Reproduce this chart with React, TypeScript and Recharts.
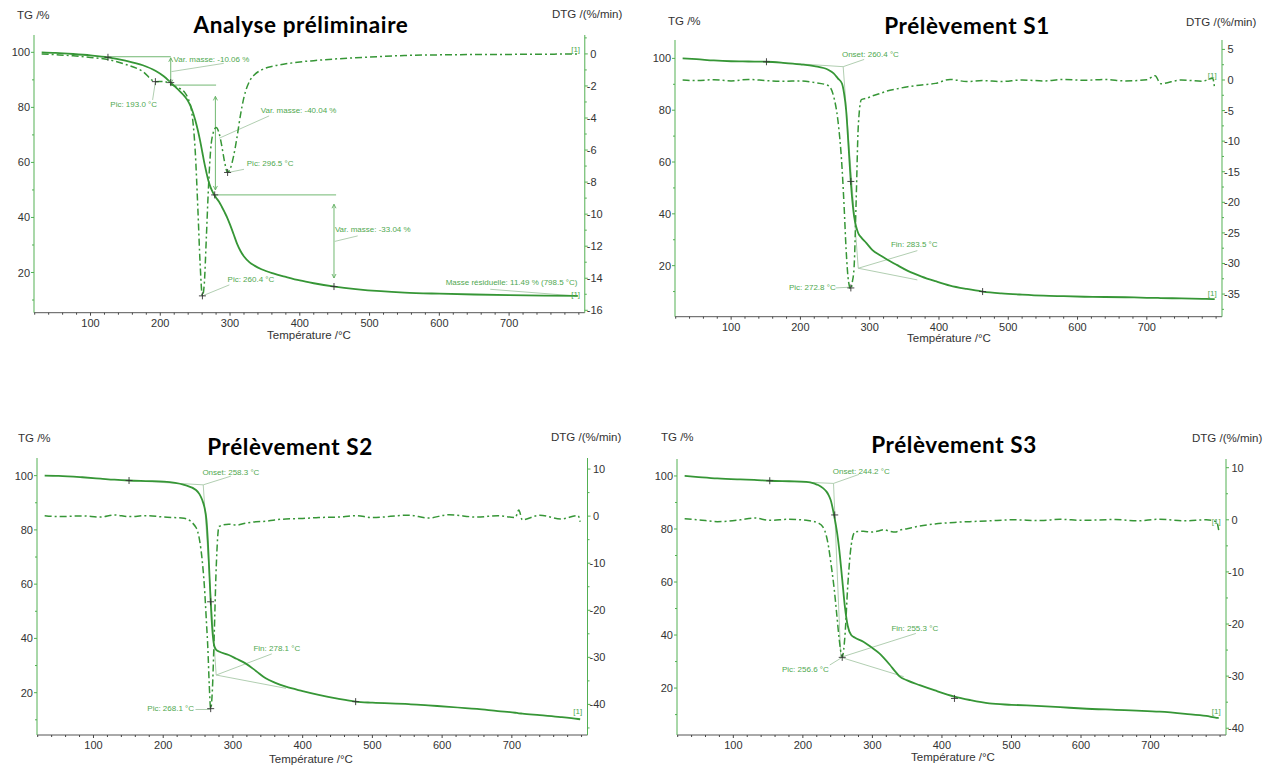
import React from 'react';
import { ComposedChart, Line, XAxis, YAxis, ReferenceLine, ReferenceDot } from 'recharts';

// ---------- DATA ----------
// Panel A : Analyse préliminaire
const tempA = [30, 50, 75, 100, 125, 150, 175, 193, 205, 215, 225, 235, 240, 245, 250, 254, 257, 260.4, 263, 266, 269, 272, 276, 280, 284, 288, 292, 296.5, 300, 305, 310, 315, 320, 328, 335, 345, 363, 380, 400, 420, 450, 480, 516, 550, 600, 650, 700, 750, 798.5];
const tgA = [100, 99.8, 99.4, 98.9, 98.2, 97.0, 95.3, 93.3, 91.3, 89, 86.6, 84, 82.2, 79.5, 75.5, 71.5, 68, 63.5, 60, 56.5, 53.3, 51, 48.8, 47.2, 45.8, 44, 42, 39.6, 37.4, 34, 30.5, 27.8, 25.8, 23.7, 22.5, 21.2, 19.6, 18.4, 17.1, 16.1, 14.9, 14.0, 13.2, 12.7, 12.3, 12.0, 11.8, 11.6, 11.5];
const dtgA = [0, -0.05, -0.12, -0.22, -0.35, -0.65, -1.1, -1.73, -1.72, -1.9, -2.1, -2.4, -2.8, -3.6, -6.0, -9.8, -13.0, -15.1, -14.4, -11.5, -8.4, -6.1, -4.9, -4.6, -4.9, -5.7, -6.7, -7.4, -7.2, -6.4, -5.2, -3.8, -2.7, -1.7, -1.3, -1.0, -0.75, -0.62, -0.5, -0.42, -0.32, -0.24, -0.16, -0.1, -0.06, -0.04, -0.03, -0.02, 0];

// Panel B : Prélèvement S1
const tempB = [30, 50, 75, 100, 125, 151, 175, 200, 220, 240, 248, 254, 260, 263, 266, 269.5, 272.8, 275, 277.5, 280.5, 283.5, 288, 295, 304, 315, 325, 339, 355, 375, 395, 416, 440, 463, 490, 520, 551, 580, 610, 640, 669, 700, 712, 720, 750, 780, 795, 798];
const tgB = [100, 99.7, 99.2, 98.9, 98.8, 98.7, 98.3, 97.7, 97.0, 95.6, 94.2, 92.3, 90.3, 86.5, 80, 66, 52, 45, 39, 35, 32.5, 30.8, 28.8, 26, 24, 22.4, 20.3, 18, 15.8, 14, 12.3, 11, 10, 9.3, 8.8, 8.4, 8.2, 8.0, 7.9, 7.8, 7.6, 7.55, 7.5, 7.35, 7.2, 7.1, 7.1];
const dtgB = [0, -0.1, 0.05, -0.15, 0.1, -0.1, -0.2, -0.15, -0.4, -0.9, -2.7, -6.5, -14.2, -20.5, -27.8, -33, -34.2, -33, -30.6, -19.6, -7.6, -3.2, -3.0, -2.6, -2.2, -1.8, -1.45, -1.1, -0.8, -0.55, 0.1, -0.25, -0.1, -0.25, 0, -0.15, 0.1, -0.05, 0.1, -0.15, 0.05, 0.7, -0.6, 0, -0.2, 0.3, -1.5];

// Panel C : Prélèvement S2
const tempC = [30, 50, 84, 110, 130, 151, 175, 201, 230, 247, 252, 256, 259, 262, 264, 266, 268.1, 270.5, 273, 276, 280, 294, 305, 318, 333, 347, 360, 376, 400, 423, 450, 476, 500, 552, 580, 610, 650, 680, 705, 710, 715, 740, 770, 795, 798];
const tgC = [100, 99.9, 99.4, 98.9, 98.5, 98.2, 98.0, 97.8, 96.6, 94.7, 93.2, 91, 88.5, 83.7, 76, 65.2, 53.5, 43, 37.5, 35.8, 35.2, 33.9, 32.5, 30.8, 28, 25.3, 23.7, 22.2, 20.6, 19.2, 17.8, 16.7, 16.3, 15.8, 15.3, 14.8, 14, 13.2, 12.6, 12.4, 12.3, 11.7, 11, 10.3, 10.2];
const dtgC = [0.1, -0.1, 0.05, -0.2, 0.25, -0.1, 0.1, -0.2, -0.45, -2.4, -5, -9.5, -14.8, -22.5, -28, -35.7, -40.9, -37, -26, -11, -2.2, -1.7, -1.9, -1.5, -1.2, -1.1, -0.8, -0.6, -0.5, -0.3, -0.2, 0.1, -0.3, 0.2, -0.4, 0.3, -0.2, 0.1, -0.3, 1.3, -0.8, 0.2, -0.6, 0.1, -1.2];

// Panel D : Prélèvement S3
const tempD = [30, 50, 77, 110, 130, 153, 180, 205, 217, 222, 229, 234, 237, 240, 245, 249, 252, 256.6, 260.5, 264.5, 269.5, 275, 287, 298, 310, 316, 325, 333, 339, 350, 368, 390, 418, 440, 468, 500, 543, 570, 602, 650, 680, 713, 750, 780, 795, 798];
const tgD = [100, 99.6, 99.1, 98.7, 98.5, 98.2, 98.0, 97.8, 97.1, 96.6, 95.4, 94.1, 92.8, 90.9, 85, 79, 73, 61, 50.5, 43.5, 40, 39, 37.5, 35.5, 33.1, 31.5, 28.8, 26.2, 24.4, 22.9, 21.1, 19.1, 16.8, 15.5, 14.2, 13.7, 13.2, 12.8, 12.3, 11.8, 11.5, 11.1, 10.3, 9.5, 8.8, 8.7];
const dtgD = [0.2, 0, -0.35, 0, 0.35, -0.1, 0.1, -0.1, -0.36, -0.6, -1.4, -3.2, -5.2, -8, -13.2, -18.5, -22.6, -26.3, -22.3, -12.8, -4.9, -2.3, -2.2, -2.35, -2.1, -1.9, -2.2, -2.35, -2.0, -1.7, -1.2, -0.8, -0.5, -0.35, -0.2, 0, -0.15, 0.1, -0.1, 0.05, -0.2, 0.1, -0.2, 0, -0.4, -2];

// Tick labels
const titles = ['Analyse préliminaire', 'Prélèvement S1', 'Prélèvement S2', 'Prélèvement S3'];
const xMajor = [100, 200, 300, 400, 500, 600, 700];
const xTicks = [20, 40, 60, 80, 100, 120, 140, 160, 180, 200, 220, 240, 260, 280, 300, 320, 340, 360, 380, 400, 420, 440, 460, 480, 500, 520, 540, 560, 580, 600, 620, 640, 660, 680, 700, 720, 740, 760, 780, 800];
const tgMajor = [20, 40, 60, 80, 100];
const tgTicks = [10, 20, 30, 40, 50, 60, 70, 80, 90, 100];
const dtgMajorA = [0, -2, -4, -6, -8, -10, -12, -14, -16];
const dtgTicksA = [1, 0, -1, -2, -3, -4, -5, -6, -7, -8, -9, -10, -11, -12, -13, -14, -15, -16];
const dtgMajorB = [5, 0, -5, -10, -15, -20, -25, -30, -35];
const dtgTicksB = [5, 2.5, 0, -2.5, -5, -7.5, -10, -12.5, -15, -17.5, -20, -22.5, -25, -27.5, -30, -32.5, -35, -37.5];
const dtgMajorCD = [10, 0, -10, -20, -30, -40];
const dtgTicksC = [10, 5, 0, -5, -10, -15, -20, -25, -30, -35, -40, -45];
const dtgTicksD = [10, 5, 0, -5, -10, -15, -20, -25, -30, -35, -40];

// ---------- STYLE ----------
const FONT = "'Liberation Sans', Arial, Helvetica, sans-serif";
const CURVE = '#369636';
const AXIS_G = '#52b052';
const ANN_TXT = '#4fa84f';
const ANN_LINE = '#62b062';
const LEAD = '#a8c8a8';
const PADL = 40, PADR = 45, PADT = 5, PADB = 30;

type Ax = 'tg' | 'dtg';
type Ann =
  | { k: 'seg'; ax: Ax; p: number[]; c: string }
  | { k: 'txt'; ax: Ax; x: number; y: number; s: string; anchor?: string }
  | { k: 'plus'; ax: Ax; x: number; y: number }
  | { k: 'head'; ax: Ax; x: number; y: number; dir: 'up' | 'down' };

const seg = (ax: Ax, x1: number, y1: number, x2: number, y2: number, c = LEAD): Ann => ({ k: 'seg', ax, p: [x1, y1, x2, y2], c });
const txt = (ax: Ax, x: number, y: number, s: string, anchor = 'start'): Ann => ({ k: 'txt', ax, x, y, s, anchor });
const plus = (ax: Ax, x: number, y: number): Ann => ({ k: 'plus', ax, x, y });
const head = (ax: Ax, x: number, y: number, dir: 'up' | 'down'): Ann => ({ k: 'head', ax, x, y, dir });

const annA: Ann[] = [
  seg('tg', 125, 98.4, 215, 98.4, ANN_LINE),
  seg('tg', 215, 98.0, 215, 88.6, ANN_LINE), head('tg', 215, 98.0, 'up'), head('tg', 215, 88.6, 'down'),
  seg('tg', 215, 88.1, 280, 88.1, ANN_LINE),
  seg('tg', 279, 84, 279, 50, ANN_LINE), head('tg', 279, 84, 'up'), head('tg', 279, 50, 'down'),
  seg('tg', 277, 48.2, 452, 48.2, ANN_LINE),
  seg('tg', 449, 44.8, 449, 18, ANN_LINE), head('tg', 449, 44.8, 'up'), head('tg', 449, 18, 'down'),
  seg('tg', 216, 93, 291, 96),
  seg('tg', 189, 82.7, 193, 89.3),
  seg('tg', 284.5, 68.8, 356, 76.9),
  seg('tg', 296.5, 56.3, 320, 57.5),
  seg('tg', 450, 31.3, 483, 33.3),
  seg('tg', 260.4, 11.5, 299, 15.5),
  seg('tg', 673, 13.9, 790, 11.6),
  txt('tg', 219, 96.6, 'Var. masse: -10.06 %'),
  txt('tg', 128.4, 80.3, 'Pic: 193.0 °C'),
  txt('tg', 344, 77.9, 'Var. masse: -40.04 %'),
  txt('tg', 324, 58.7, 'Pic: 296.5 °C'),
  txt('tg', 450.3, 34.9, 'Var. masse: -33.04 %'),
  txt('tg', 296.5, 16.7, 'Pic: 260.4 °C'),
  txt('tg', 798, 15.4, 'Masse résiduelle: 11.49 % (798.5 °C)', 'end'),
  txt('dtg', 789, 0.15, '[1]'),
  txt('tg', 789, 11.2, '[1]'),
  plus('tg', 125, 98.2), plus('tg', 215, 89), plus('tg', 278, 48.2), plus('tg', 449, 14.9),
  plus('dtg', 193, -1.73), plus('dtg', 260.4, -15.1), plus('dtg', 296.5, -7.4),
];

const annB: Ann[] = [
  seg('tg', 151, 98.7, 261.7, 96.8),
  seg('tg', 261.7, 96.8, 283.5, 19.0),
  seg('tg', 283.5, 19.0, 368.8, 14.5),
  seg('tg', 283.5, 19.0, 368.8, 25.8),
  seg('tg', 261.7, 96.8, 292, 99.6),
  seg('tg', 251, 11.4, 272.8, 11.7),
  txt('tg', 260, 100.4, 'Onset: 260.4 °C'),
  txt('tg', 330.6, 27.1, 'Fin: 283.5 °C'),
  txt('tg', 183.5, 10.6, 'Pic: 272.8 °C'),
  txt('dtg', 788, 0.3, '[1]'),
  txt('tg', 788, 8.4, '[1]'),
  plus('tg', 151, 98.7), plus('tg', 272.8, 52.5), plus('tg', 463, 10),
  plus('dtg', 272.8, -34),
];

const annC: Ann[] = [
  seg('tg', 151, 98.2, 257.4, 96.6),
  seg('tg', 257.4, 96.6, 276, 26.5),
  seg('tg', 276, 26.5, 376, 21.6),
  seg('tg', 276, 26.5, 355.7, 34.3),
  seg('tg', 257.4, 96.6, 297, 99.8),
  seg('tg', 246.3, 13.8, 268.1, 13.8),
  txt('tg', 256.2, 100.2, 'Onset: 258.3 °C'),
  txt('tg', 329.4, 35.5, 'Fin: 278.1 °C'),
  txt('tg', 177.2, 13.3, 'Pic: 268.1 °C'),
  txt('tg', 788, 12.0, '[1]'),
  plus('tg', 151, 98.2), plus('tg', 268, 53.5), plus('tg', 476, 16.7),
  plus('dtg', 268.1, -40.9),
];

const annD: Ann[] = [
  seg('tg', 152.4, 98.2, 244.1, 97.2),
  seg('tg', 244.1, 97.2, 254.5, 31.6),
  seg('tg', 254.5, 31.6, 345, 24.3),
  seg('tg', 254.5, 31.6, 362.5, 40.6),
  seg('tg', 244.1, 97.2, 280.8, 100.6),
  seg('tg', 238.7, 28.7, 256.6, 31.6),
  txt('tg', 243, 100.9, 'Onset: 244.2 °C'),
  txt('tg', 327.3, 41.4, 'Fin: 255.3 °C'),
  txt('tg', 170, 26.0, 'Pic: 256.6 °C'),
  txt('dtg', 788, -0.8, '[1]'),
  txt('tg', 788, 10.2, '[1]'),
  plus('tg', 152.4, 98.2), plus('tg', 245.8, 85.3), plus('tg', 418, 16.1),
  plus('dtg', 256.6, -26.4),
];

// ---------- TICKS ----------
const xTick = (p: any) => {
  const v = p.payload.value;
  const major = xMajor.includes(v);
  return (
    <g>
      <line x1={p.x} y1={p.y} x2={p.x} y2={p.y + (major ? 3 : 2)} stroke="#444" strokeWidth={1} />
      {major && (
        <text x={p.x} y={p.y + 14} textAnchor="middle" fontSize={11} fill="#333" fontFamily={FONT}>{v}</text>
      )}
    </g>
  );
};
const leftTick = (p: any) => {
  const v = p.payload.value;
  const major = tgMajor.includes(v);
  return (
    <g>
      <line x1={p.x - (major ? 3 : 2)} y1={p.y} x2={p.x} y2={p.y} stroke={AXIS_G} strokeWidth={1} />
      {major && (
        <text x={p.x - 4} y={p.y + 4} textAnchor="end" fontSize={11} fill="#333" fontFamily={FONT}>{v}</text>
      )}
    </g>
  );
};
const makeRightTick = (majors: number[]) => (p: any) => {
  const v = p.payload.value;
  const major = majors.includes(v);
  return (
    <g>
      <line x1={p.x} y1={p.y} x2={p.x + (major ? 3 : 2)} y2={p.y} stroke={AXIS_G} strokeWidth={1} />
      {major && (
        <text x={p.x + (v < 0 ? 2 : 5.5)} y={p.y + 4} textAnchor="start" fontSize={11} fill="#333" fontFamily={FONT}>{v}</text>
      )}
    </g>
  );
};

// ---------- ANNOTATION RENDER ----------
const renderAnn = (a: Ann, i: number) => {
  if (a.k === 'seg') {
    return (
      <ReferenceLine key={'s' + i} yAxisId={a.ax} ifOverflow="visible"
        segment={[{ x: a.p[0], y: a.p[1] }, { x: a.p[2], y: a.p[3] }]}
        stroke={a.c} strokeWidth={0.9} />
    );
  }
  if (a.k === 'txt') {
    const s = a.s, anchor = a.anchor || 'start';
    return (
      <ReferenceDot key={'t' + i} yAxisId={a.ax} x={a.x} y={a.y} r={0} ifOverflow="visible"
        shape={(p: any) => (
          <text x={p.cx} y={p.cy} fontSize={8} fill={ANN_TXT} fontFamily={FONT} textAnchor={anchor}>{s}</text>
        )} />
    );
  }
  if (a.k === 'plus') {
    return (
      <ReferenceDot key={'p' + i} yAxisId={a.ax} x={a.x} y={a.y} r={0} ifOverflow="visible"
        shape={(p: any) => (
          <path d={`M${p.cx - 3.5},${p.cy}H${p.cx + 3.5}M${p.cx},${p.cy - 3.5}V${p.cy + 3.5}`} stroke="#333" strokeWidth={0.9} fill="none" />
        )} />
    );
  }
  const dir = a.dir;
  return (
    <ReferenceDot key={'h' + i} yAxisId={a.ax} x={a.x} y={a.y} r={0} ifOverflow="visible"
      shape={(p: any) => (
        <path d={dir === 'up'
          ? `M${p.cx - 2},${p.cy + 4}L${p.cx},${p.cy}L${p.cx + 2},${p.cy + 4}`
          : `M${p.cx - 2},${p.cy - 4}L${p.cx},${p.cy}L${p.cx + 2},${p.cy - 4}`}
          stroke={ANN_LINE} strokeWidth={0.9} fill="none" />
      )} />
  );
};

type Box = { l: number; r: number; t: number; b: number };
type Pt = { x: number; y: number };

function Panel(props: {
  temps: number[]; tg: number[]; dtg: number[]; box: Box;
  tgDom: number[]; dtgDom: number[]; dtgTicks: number[]; dtgMajor: number[]; anns: Ann[];
}) {
  const { temps, tg, dtg, box, tgDom, dtgDom, dtgTicks, dtgMajor, anns } = props;
  const data = temps.map((t, i) => ({ t, tg: tg[i], dtg: dtg[i] }));
  const W = box.r - box.l + PADL + PADR;
  const H = box.b - box.t + PADT + PADB;
  return (
    <div style={{ position: 'absolute', left: box.l - PADL, top: box.t - PADT, width: W, height: H }}>
      <ComposedChart width={W} height={H} data={data} margin={{ top: PADT, right: 0, bottom: 0, left: 0 }}>
        <XAxis dataKey="t" type="number" domain={[19, 808.5]} allowDataOverflow ticks={xTicks} interval={0}
          tickLine={false} tickSize={0} tickMargin={0} height={PADB} stroke="#555" tick={xTick} />
        <YAxis yAxisId="tg" orientation="left" width={PADL} type="number" domain={tgDom} allowDataOverflow
          ticks={tgTicks} interval={0} tickLine={false} tickSize={0} tickMargin={0} stroke={AXIS_G} tick={leftTick} />
        <YAxis yAxisId="dtg" orientation="right" width={PADR} type="number" domain={dtgDom} allowDataOverflow
          ticks={dtgTicks} interval={0} tickLine={false} tickSize={0} tickMargin={0} stroke={AXIS_G} tick={makeRightTick(dtgMajor)} />
        {anns.filter(a => a.k === 'seg').map(renderAnn)}
        <Line yAxisId="dtg" dataKey="dtg" type="monotone" stroke={CURVE} strokeWidth={1.5}
          strokeDasharray="7 3 2 3" dot={false} isAnimationActive={false} />
        <Line yAxisId="tg" dataKey="tg" type="monotone" stroke={CURVE} strokeWidth={1.8}
          dot={false} isAnimationActive={false} />
        {anns.filter(a => a.k !== 'seg').map(renderAnn)}
      </ComposedChart>
    </div>
  );
}

const Label = (p: { x: number; y: number; text: string; size: number; bold?: boolean; center?: boolean; family?: string; spacing?: number }) => (
  <div style={{
    position: 'absolute', left: p.x, top: p.y, transform: p.center ? 'translate(-50%,-50%)' : 'translateY(-50%)',
    fontSize: p.size, fontWeight: p.bold ? 700 : 400, fontFamily: p.family || FONT, color: p.bold ? '#000' : '#333',
    whiteSpace: 'nowrap', lineHeight: 1, letterSpacing: p.spacing || 0,
  }}>{p.text}</div>
);

const boxes: Box[] = [
  { l: 33.5, r: 584.3, t: 35, b: 312.7 },
  { l: 675, r: 1222, t: 40, b: 316.7 },
  { l: 36.5, r: 587, t: 458, b: 735 },
  { l: 677, r: 1226, t: 459, b: 735 },
];
const titlePos: Pt[] = [{ x: 301, y: 25 }, { x: 967, y: 26 }, { x: 290, y: 447 }, { x: 954, y: 445 }];
const tgLabelPos: Pt[] = [{ x: 17, y: 16 }, { x: 668, y: 22 }, { x: 18, y: 439 }, { x: 661, y: 438 }];
const dtgLabelPos: Pt[] = [{ x: 552, y: 15 }, { x: 1186, y: 23 }, { x: 551, y: 438 }, { x: 1192, y: 439 }];
const xLabelPos: Pt[] = [{ x: 309, y: 336 }, { x: 949, y: 339 }, { x: 311, y: 760 }, { x: 953, y: 758 }];

export default function App() {
  return (
    <div style={{ position: 'absolute', left: 0, top: 0, width: 1274, height: 769, background: '#fff', overflow: 'hidden' }}>
      <Panel temps={tempA} tg={tgA} dtg={dtgA} box={boxes[0]} tgDom={[5.4, 106.3]} dtgDom={[-16.15, 1.18]}
        dtgTicks={dtgTicksA} dtgMajor={dtgMajorA} anns={annA} />
      <Panel temps={tempB} tg={tgB} dtg={dtgB} box={boxes[1]} tgDom={[0.3, 107.1]} dtgDom={[-38.7, 6.54]}
        dtgTicks={dtgTicksB} dtgMajor={dtgMajorB} anns={annB} />
      <Panel temps={tempC} tg={tgC} dtg={dtgC} box={boxes[2]} tgDom={[4.4, 106.5]} dtgDom={[-46.5, 12.35]}
        dtgTicks={dtgTicksC} dtgMajor={dtgMajorCD} anns={annC} />
      <Panel temps={tempD} tg={tgD} dtg={dtgD} box={boxes[3]} tgDom={[2.3, 106.4]} dtgDom={[-41.3, 11.67]}
        dtgTicks={dtgTicksD} dtgMajor={dtgMajorCD} anns={annD} />
      {titles.map((t, i) => (
        <Label key={'ti' + i} x={titlePos[i].x} y={titlePos[i].y} text={t} size={22.5} bold center spacing={0.6}
          family="Lato, 'Open Sans', sans-serif" />
      ))}
      {boxes.map((_, i) => (
        <React.Fragment key={'lb' + i}>
          <Label x={tgLabelPos[i].x} y={tgLabelPos[i].y} text="TG /%" size={11.5} />
          <Label x={dtgLabelPos[i].x} y={dtgLabelPos[i].y} text="DTG /(%/min)" size={11.5} />
          <Label x={xLabelPos[i].x} y={xLabelPos[i].y} text="Température /°C" size={11.5} center />
        </React.Fragment>
      ))}
    </div>
  );
}
